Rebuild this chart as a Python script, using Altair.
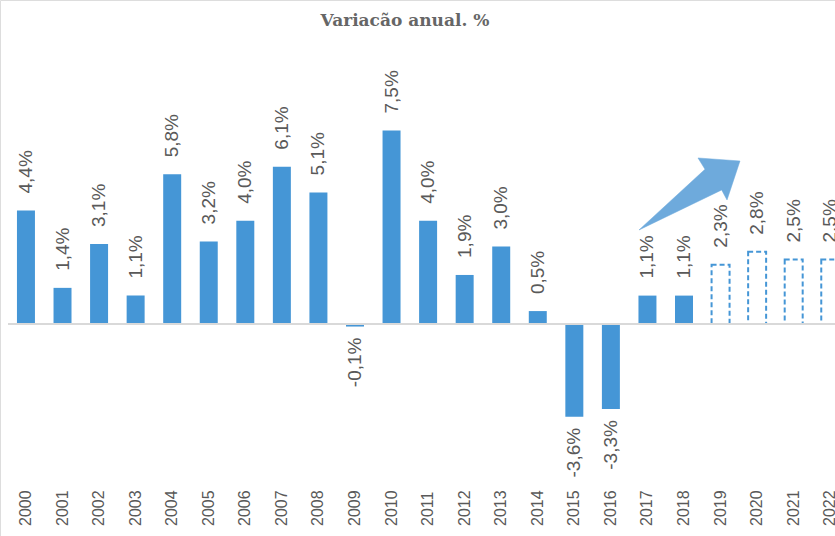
import altair as alt
import pandas as pd

years = list(range(2000, 2023))
values = [4.4, 1.4, 3.1, 1.1, 5.8, 3.2, 4.0, 6.1, 5.1, -0.1, 7.5, 4.0, 1.9, 3.0, 0.5,
          -3.6, -3.3, 1.1, 1.1, 2.3, 2.8, 2.5, 2.5]
forecast = [y >= 2019 for y in years]
title_text = "Variacão anual. %"

BLUE = "#4596D6"
GRAY = "#595959"

df = pd.DataFrame({"year": years, "value": values, "forecast": forecast})
df["label"] = df["value"].map(lambda v: f"{v:.1f}".replace(".", ",") + "%")
df["ylab"] = df["year"].astype(str)
df["zero"] = 0.0
df["x0"] = df["year"] - 0.246
df["x1"] = df["year"] + 0.246

xs = alt.Scale(domain=[1999.29, 2022.13], nice=False, zero=False)
ys = alt.Scale(domain=[-8.22, 12.56], nice=False, zero=False)

X0 = alt.X("x0:Q", scale=xs, axis=None)
Y = alt.Y("value:Q", scale=ys, axis=None)

solid = alt.Chart(df[~df["forecast"]]).mark_rect(color=BLUE, clip=True).encode(
    x=X0, x2="x1:Q", y=Y, y2="zero:Q",
)

dashed = alt.Chart(df[df["forecast"]]).mark_rect(
    fill="white", stroke=BLUE, strokeWidth=2, strokeDash=[5, 3], clip=True
).encode(
    x=X0, x2="x1:Q", y=Y, y2="zero:Q",
)

baseline = alt.Chart(df.iloc[:1]).mark_rule(color="#d9d9d9", strokeWidth=2).encode(
    y=alt.Y("zero:Q", scale=ys, axis=None),
    x=alt.value(8),
    x2=alt.value(835),
)

pos_labels = alt.Chart(df[df["value"] >= 0]).mark_text(
    angle=270, align="left", baseline="middle", dx=17,
    font="Liberation Sans", fontSize=19, color=GRAY
).encode(
    x=alt.X("year:Q", scale=xs, axis=None),
    y=Y,
    text="label:N",
)

neg_labels = alt.Chart(df[df["value"] < 0]).mark_text(
    angle=270, align="right", baseline="middle", dx=-11,
    font="Liberation Sans", fontSize=19, color=GRAY
).encode(
    x=alt.X("year:Q", scale=xs, axis=None),
    y=Y,
    text="label:N",
)

year_labels = alt.Chart(df).mark_text(
    angle=270, align="left", baseline="middle",
    font="Liberation Sans", fontSize=16, color=GRAY
).encode(
    x=alt.X("year:Q", scale=xs, axis=None),
    y=alt.value(526),
    text="ylab:N",
)

title = alt.Chart(pd.DataFrame({"t": [title_text]})).mark_text(
    font="DejaVu Serif", fontWeight="bold", fontSize=17, color="#666666",
    align="center", baseline="middle"
).encode(x=alt.value(405), y=alt.value(21), text="t:N")

arrow_path = ("M -1 0.713 L 0.307 -0.489 L 0.168 -0.713 L 1 -0.653 "
              "L 0.743 0.119 L 0.637 -0.079 Z")
arrow = alt.Chart(pd.DataFrame({"ax": [2018.15], "ay": [5.04]})).mark_point(
    shape=arrow_path, size=10201, filled=True, fill="#6EAADC", stroke="#6EAADC",
    strokeWidth=0.5, opacity=1
).encode(
    x=alt.X("ax:Q", scale=xs, axis=None),
    y=alt.Y("ay:Q", scale=ys, axis=None),
)

chart = alt.layer(
    solid, dashed, baseline, pos_labels, neg_labels, year_labels, arrow, title
).properties(
    width=835, height=536, autosize=alt.AutoSizeParams(type="none"), padding=0
).configure_view(stroke=None).configure(background="white")

chart.save("out.html", embed_options={"renderer": "svg", "actions": False})
